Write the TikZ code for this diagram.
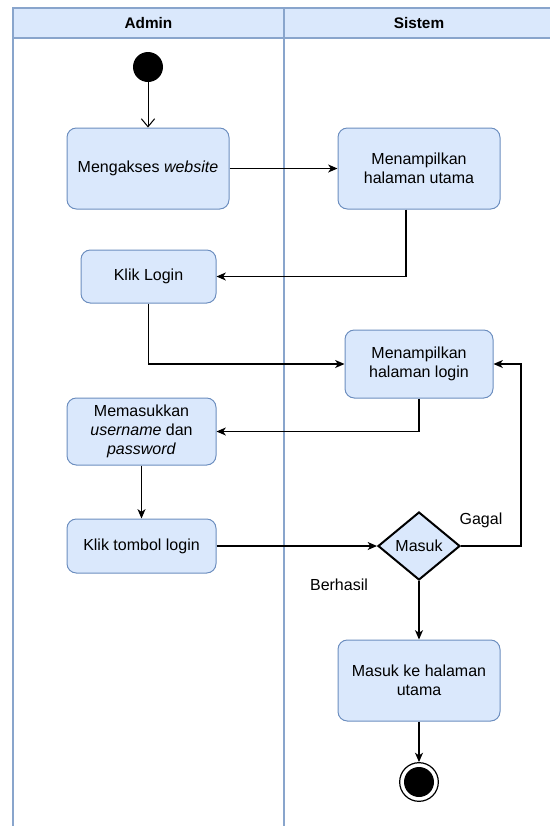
\documentclass[tikz,border=0pt]{standalone}
\usepackage{fontspec}
\setmainfont{Liberation Sans}
\usetikzlibrary{arrows.meta,shapes.geometric}

\definecolor{lanefill}{HTML}{DAE8FC}
\definecolor{laneline}{HTML}{6C8EBF}

\begin{document}
\begin{tikzpicture}[x=0.75pt,y=-0.75pt,
  font=\fontsize{12}{14.4}\selectfont,
  activity/.style={rectangle, rounded corners=7pt, draw=laneline, fill=lanefill, line width=0.75pt, align=center, inner sep=2pt},
  decision/.style={diamond, draw=black, fill=lanefill, line width=1.5pt, inner sep=0pt, minimum width=61.5pt, minimum height=51pt},
  flow/.style={draw=black, line width=0.9pt, -{Stealth[length=7pt,width=6pt,inset=2pt]}},
  lane/.style={draw=laneline!80!white, line width=1pt}]

\useasboundingbox (0,0) rectangle (550,826);

% swimlanes
\fill[lanefill] (13,8) rectangle (550,38);
\draw[lane] (13,826) -- (13,8) -- (550,8);
\draw[lane] (13,38) -- (550,38);
\draw[lane] (284,8) -- (284,826);
\node[font=\fontsize{11.5}{13}\selectfont\bfseries] (admin) at (148.5,23) {Admin};
\node[font=\fontsize{11.5}{13}\selectfont\bfseries] (sistem) at (419,23) {Sistem};

% start and end
\node[circle, fill=black, minimum size=22.5pt, inner sep=0pt] (start) at (148,67) {};
\node[circle, draw=black, line width=0.9pt, minimum size=29pt, inner sep=0pt] (end) at (419,782) {};
\fill (end.center) circle (11.25pt);

% activities
\node[activity, minimum width=121.5pt, minimum height=60.75pt] (web) at (148,168.5) {Mengakses \textit{website}};
\node[activity, minimum width=121.5pt, minimum height=60.75pt] (utama) at (419,168.5) {Menampilkan\\halaman utama};
\node[activity, minimum width=101.25pt, minimum height=39.75pt] (klik) at (148.5,276.5) {Klik Login};
\node[activity, minimum width=111pt, minimum height=51pt] (login) at (419,364) {Menampilkan\\halaman login};
\node[activity, minimum width=111.75pt, minimum height=50.25pt] (input) at (141.5,431.5) {Memasukkan\\\textit{username} dan\\\textit{password}};
\node[activity, minimum width=111.75pt, minimum height=40.5pt] (tombol) at (141.5,546) {Klik tombol login};
\node[decision] (masuk) at (419,546) {Masuk};
\node[activity, minimum width=121.5pt, minimum height=60.75pt] (home) at (419,680.5) {Masuk ke halaman\\utama};

\node (gagal) at (481,520) {Gagal};
\node (berhasil) at (339,585) {Berhasil};

% flows
\draw[draw=black, line width=0.75pt, -{Straight Barb[length=6pt,width=10pt]}] (start) -- (web);
\draw[flow] (web) -- (utama);
\draw[flow] ([xshift=-9.75pt]utama.south) |- (klik.east);
\draw[flow] (klik.south) |- (login.west);
\draw[flow] (login.south) |- (input.east);
\draw[flow] (input) -- (tombol);
\draw[flow] (tombol) -- (masuk);
\draw[flow] (masuk.east) -- ++(60,0) |- (login.east);
\draw[flow] (masuk) -- (home);
\draw[flow] (home) -- (end);

\end{tikzpicture}
\end{document}
